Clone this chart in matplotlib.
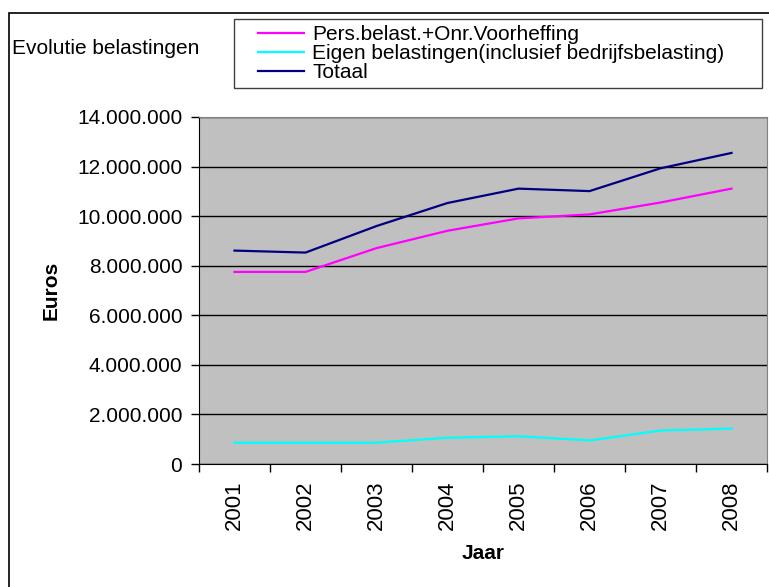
import matplotlib
matplotlib.use("Agg")
import matplotlib.pyplot as plt
from matplotlib.patches import Rectangle
from matplotlib.ticker import FuncFormatter, FixedLocator
import numpy as np

plt.rcParams['font.family'] = ['Liberation Sans', 'DejaVu Sans']

# Data
jaren = ['2001', '2002', '2003', '2004', '2005', '2006', '2007', '2008']
pers_belast = [7.75e6, 7.75e6, 8.71e6, 9.41e6, 9.91e6, 10.07e6, 10.55e6, 11.11e6]
eigen_belast = [0.86e6, 0.86e6, 0.86e6, 1.06e6, 1.12e6, 0.95e6, 1.35e6, 1.43e6]
totaal = [8.61e6, 8.53e6, 9.60e6, 10.53e6, 11.11e6, 11.01e6, 11.93e6, 12.55e6]

labels = ['Pers.belast.+Onr.Voorheffing',
          'Eigen belastingen(inclusief bedrijfsbelasting)',
          'Totaal']
colors = ['#FF00FF', '#00FFFF', '#000080']

W, H = 769, 587
fig = plt.figure(figsize=(W / 100, H / 100), dpi=100)


def fx(px):
    return px / W


def fy(py):
    return 1 - py / H


# outer chart border (runs off the right and bottom edges)
fig.patches.append(Rectangle((fx(8.5), fy(600)), fx(800), fy(12.5) - fy(600),
                             transform=fig.transFigure, fill=False,
                             edgecolor='black', lw=1.2))

ax = fig.add_axes([fx(199), fy(464), fx(767) - fx(199), fy(117) - fy(464)])
ax.set_facecolor('#C0C0C0')

x = np.arange(len(jaren))
series = [pers_belast, eigen_belast, totaal]
for vals, lab, col in zip(series, labels, colors):
    ax.plot(x, vals, color=col, lw=1.6, label=lab, zorder=3)

ax.set_xlim(-0.5, len(jaren) - 0.5)
ax.set_ylim(0, 14e6)
ax.set_yticks(np.arange(0, 14e6 + 1, 2e6))
ax.yaxis.set_major_formatter(FuncFormatter(lambda v, p: f'{int(v):,}'.replace(',', '.')))
ax.grid(axis='y', color='black', lw=1, zorder=1)

# category boundaries as ticks, labels in the middle
ax.xaxis.set_major_locator(FixedLocator(np.arange(-0.5, len(jaren), 1.0)))
ax.xaxis.set_major_formatter(FuncFormatter(lambda v, p: ''))
ax.set_xticks(x, minor=True)
ax.set_xticklabels(jaren, minor=True, rotation=90, fontsize=16)
ax.tick_params(axis='x', which='minor', length=0, pad=12)
ax.tick_params(axis='x', which='major', direction='out', length=6, width=1)
ax.tick_params(axis='y', direction='out', length=6, width=1, labelsize=15, pad=6)

for side in ['top', 'right']:
    ax.spines[side].set_color('#808080')
for side in ['left', 'bottom']:
    ax.spines[side].set_color('black')

ax.set_xlabel('Jaar', fontsize=15, fontweight='bold', labelpad=10)
ax.set_ylabel('Euros', fontsize=15, fontweight='bold', labelpad=12)

fig.text(fx(12), fy(48), 'Evolutie belastingen', fontsize=15, va='center', ha='left')

# legend box
fig.patches.append(Rectangle((fx(233.5), fy(88)), fx(762) - fx(233.5), fy(19.5) - fy(88),
                             transform=fig.transFigure, fill=False,
                             edgecolor='#404040', lw=1))
leg = fig.legend(loc='upper left', bbox_to_anchor=(fx(258), fy(25)), frameon=False,
                 fontsize=15, handlelength=2.2, handletextpad=0.4,
                 labelspacing=0, borderaxespad=0, borderpad=0)

fig.savefig('out.png', dpi=100)
